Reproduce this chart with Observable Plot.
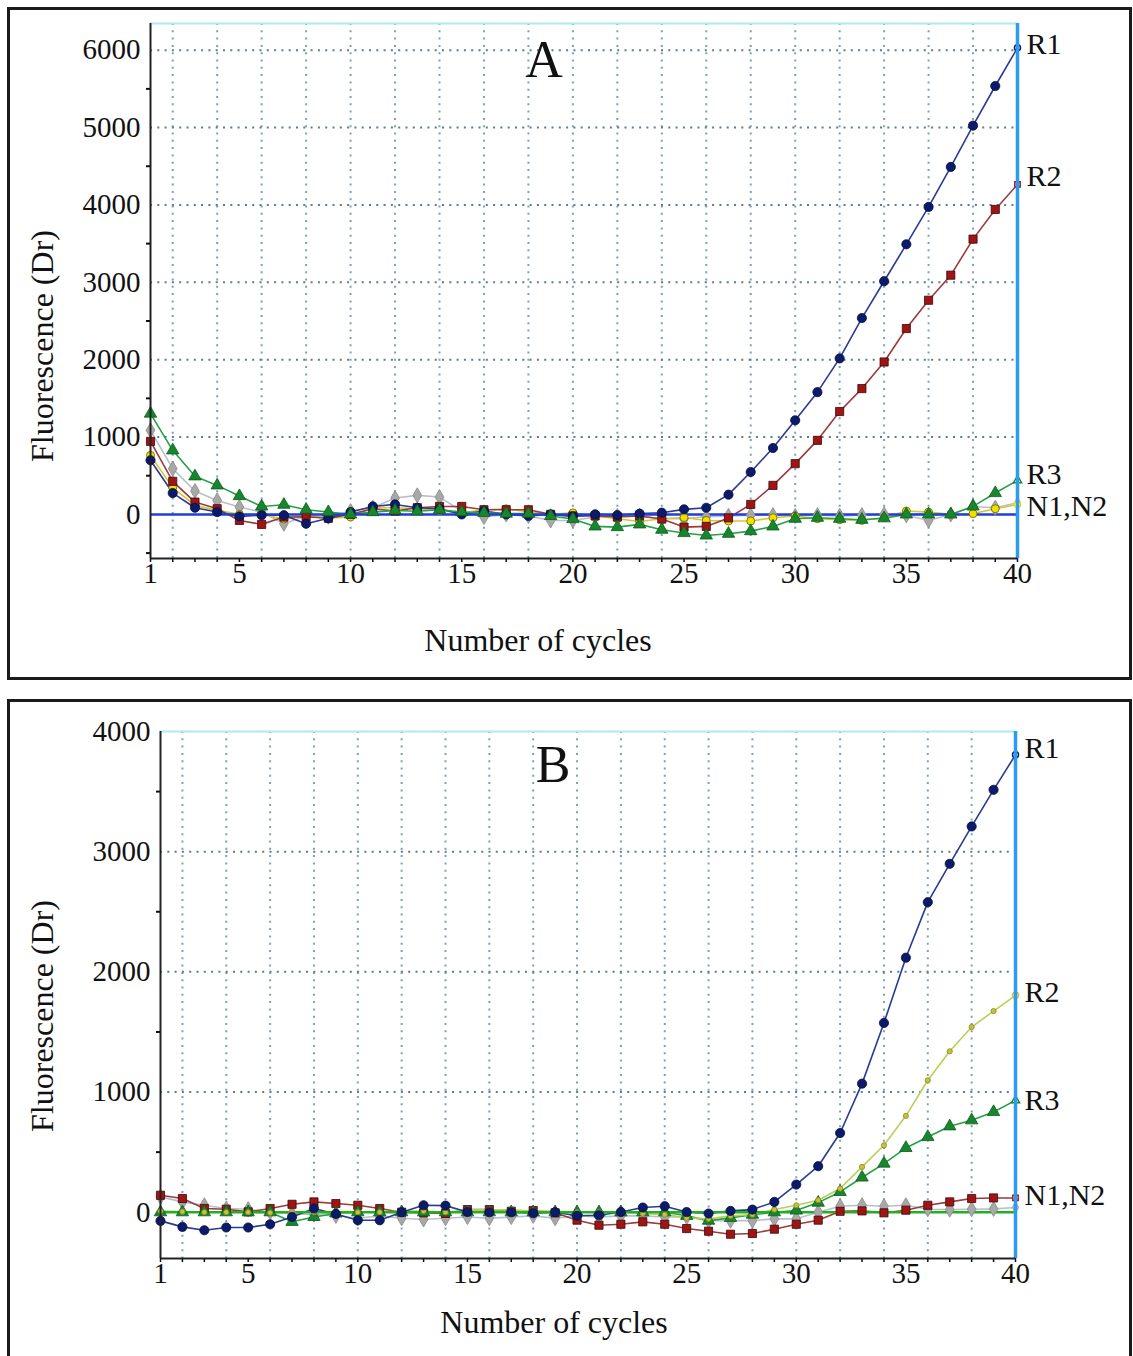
<!DOCTYPE html>
<html><head><meta charset="utf-8">
<script src="https://cdn.jsdelivr.net/npm/d3@7"></script>
<script src="https://cdn.jsdelivr.net/npm/@observablehq/plot@0.6"></script>
<style>
html,body{margin:0;padding:0;background:#fff;width:1133px;height:1356px;overflow:hidden;}
.box{position:absolute;border:3px solid #1b1b1b;box-sizing:border-box;}
.panel{position:absolute;left:0;}
svg{overflow:visible;}
</style></head><body>
<div class="box" style="left:7px;top:7px;width:1125px;height:673px"></div>
<div class="box" style="left:7px;top:699px;width:1125px;height:720px"></div>
<div id="pa" class="panel" style="top:0px"></div>
<div id="pb" class="panel" style="top:690px"></div>
<script>
// ---------- data ----------
const cycles = [1,2,3,4,5,6,7,8,9,10,11,12,13,14,15,16,17,18,19,20,21,22,23,24,25,26,27,28,29,30,31,32,33,34,35,36,37,38,39,40];
const xTickLabels = [1,5,10,15,20,25,30,35,40];
const gridCycles = [2,4,6,8,10,12,14,16,18,20,22,24,26,28,30,32,34,36,38];

// Panel A
const yTicksA = [0,1000,2000,3000,4000,5000,6000];
const yMinorA = [-500,500,1500,2500,3500,4500,5500];
const a_R1 = [699,276,86,30,-26,-10,-10,-120,-50,30,103,129,86,73,0,43,0,-20,0,-26,0,-10,10,22,65,86,255,548,858,1216,1580,2016,2538,3014,3491,3974,4491,5025,5537,6030];
const a_R2 = [944,427,159,73,-78,-129,-34,-30,-50,0,73,43,86,103,103,60,60,60,0,-20,-20,-34,-20,-60,-164,-155,-45,129,375,656,957,1330,1626,1970,2402,2768,3092,3558,3942,4265];
const a_R3 = [1303,828,492,375,237,103,125,61,30,0,30,50,40,60,30,20,10,10,-20,-60,-155,-164,-129,-198,-241,-272,-250,-216,-155,-56,-43,-56,-69,-50,0,0,0,103,276,440];
const a_N1 = [1087,591,302,181,95,30,-120,-20,-30,43,86,211,246,224,43,-34,0,-20,-78,-78,-34,-20,-20,-56,-56,-30,-20,-10,-10,-20,-10,-20,-10,0,-10,-78,0,103,86,150];
const a_N2 = [763,345,116,52,0,0,-60,-20,-50,-34,86,86,73,52,20,60,73,30,0,20,-20,-56,-91,-56,-40,-78,-86,-86,-43,-20,-56,-69,-78,-40,43,30,0,10,73,129];
const labelsA = ["R1","R2","R3","N1,N2"];

// Panel B
const yTicksB = [0,1000,2000,3000,4000];
const yMinorB = [500,1500,2500,3500];
const b_R1 = [-72,-122,-150,-127,-127,-100,-39,31,-14,-67,-67,0,58,55,2,0,0,-8,0,-29,-25,2,39,50,2,-11,11,22,86,230,383,659,1070,1575,2118,2580,2899,3210,3515,3806];
const b_R2 = [10,5,0,0,0,-5,0,0,-10,0,0,10,10,0,20,20,20,10,10,0,0,0,-10,-20,-47,-55,-30,-20,22,58,100,197,377,557,802,1098,1339,1541,1674,1805];
const b_R3 = [0,0,0,0,0,0,-80,-39,-10,0,0,0,0,0,0,0,0,0,0,0,0,0,0,0,-30,-70,-47,-20,0,14,80,169,289,405,535,626,715,765,834,931];
const b_N1 = [141,114,31,25,3,31,66,86,72,58,31,0,-5,-10,22,22,8,14,-5,-66,-108,-100,-80,-100,-136,-158,-183,-177,-141,-100,-66,8,11,-5,17,58,86,114,119,119];
const b_N2 = [128,86,58,31,25,0,-10,-20,-30,-50,-30,-50,-60,-50,-40,-50,-40,-30,-50,-30,-40,-30,-30,-40,-40,-70,-70,-70,-55,-55,0,50,58,50,58,25,22,25,28,39];
const labelsB = ["R1","R2","R3","N1,N2"];

// ---------- helpers ----------
const FONT = '"Liberation Serif", "Times New Roman", serif';
function seriesMarks(values, st) {
  const rows = cycles.map((c, i) => ({c, v: values[i]}));
  return [
    Plot.line(rows, {x: "c", y: "v", stroke: st.line, strokeWidth: 1.6}),
    Plot.dot(rows.slice(0, -1), {x: "c", y: "v", symbol: st.symbol, r: st.r, fill: st.fill, stroke: st.stroke, strokeWidth: 0.8}),
    Plot.dot(rows.slice(-1), {x: "c", y: "v", symbol: st.symbol, r: 3, fill: "white", stroke: st.fill, strokeWidth: 1.5})
  ];
}
const S = {
  blue:   {line: "#2b3a92", fill: "#0c1a6a", stroke: "#061040", symbol: "circle", r: 4.6},
  red:    {line: "#9b3b3b", fill: "#a01414", stroke: "#3a0a0a", symbol: "square", r: 4.6},
  green:  {line: "#27a045", fill: "#17862e", stroke: "#0d5a1c", symbol: "triangle", r: 4.6},
  gray:   {line: "#b8bfcc", fill: "#a8a8a8", stroke: "#888", symbol: "diamond", r: 4.6},
  yellow: {line: "#d4c830", fill: "#f0e000", stroke: "#6a6000", symbol: "circle", r: 4},
  ygreen: {line: "#b9cf57", fill: "#c8c23a", stroke: "#8a8a20", symbol: "circle", r: 2.6}
};

function panel(cfg) {
  const [y0, y1] = cfg.yDomain;
  const labelMarks = cfg.labels.map((t, i) =>
    Plot.text([{t, v: cfg.labelVals[i]}], {x: () => 40, y: "v", text: "t", dx: 9, dy: cfg.labelDy[i], textAnchor: "start", lineAnchor: "middle", fontSize: 30, fill: "#111"}));
  return Plot.plot({
    width: 1133, height: cfg.height,
    marginLeft: cfg.ml, marginRight: cfg.mr, marginTop: cfg.mt, marginBottom: cfg.mb,
    style: {fontFamily: FONT, fontSize: "29px", color: "#111", background: "transparent", overflow: "visible"},
    x: {domain: [1, 40]},
    y: {domain: [y0, y1]},
    marks: [
      Plot.ruleX(gridCycles, {stroke: "#7aa3b2", strokeWidth: 2, strokeDasharray: "2,5.3"}),
      Plot.ruleY(cfg.yTicks.filter(d => d > 0 && d < y1), {stroke: "#5d7e86", strokeWidth: 2, strokeDasharray: "2,5.3"}),
      Plot.ruleY([y1], {stroke: "#aeeaf2", strokeWidth: 2}),
      ...cfg.series.flatMap(([vals, st]) => seriesMarks(vals, st).slice(0, 1)),
      Plot.ruleY([0], {stroke: cfg.thresh, strokeWidth: 2.5}),
      ...cfg.series.flatMap(([vals, st]) => seriesMarks(vals, st).slice(1)),
      Plot.ruleX([40], {stroke: "#2b9cf0", strokeWidth: 3.5}),
      Plot.ruleX([1], {stroke: "#222", strokeWidth: 2}),
      Plot.ruleY([y0], {stroke: "#222", strokeWidth: 2}),
      Plot.axisY({ticks: cfg.yTicks, tickFormat: d => String(d), tickSize: 0, tickPadding: 10, label: null, fontSize: 29}),
      Plot.axisY({ticks: cfg.yMinor, tickSize: 4, text: null, label: null, strokeWidth: 2}),
      Plot.axisX({ticks: xTickLabels, tickFormat: d => String(d), tickSize: 0, tickPadding: 4, label: null, fontSize: 29}),
      Plot.axisX({ticks: cycles, tickSize: 4, text: null, label: null, strokeWidth: 1.5}),
      ...labelMarks,
      Plot.text([cfg.title], {frameAnchor: "top", dx: cfg.titleDx, dy: cfg.titleDy, lineAnchor: "middle", fontSize: 52, fill: "#111"}),
      Plot.text(["Number of cycles"], {frameAnchor: "bottom", textAnchor: "middle", dx: cfg.xlDx, dy: cfg.xlDy, lineAnchor: "middle", fontSize: 32, fill: "#111"}),
      Plot.text(["Fluorescence (Dr)"], {frameAnchor: "left", textAnchor: "middle", rotate: -90, dx: cfg.ylDx, dy: cfg.ylDy, lineAnchor: "middle", fontSize: 32, fill: "#111"})
    ]
  });
}

document.getElementById("pa").append(panel({
  height: 690, ml: 150, mr: 116, mt: 23, mb: 132,
  yDomain: [-570, 6345], yTicks: yTicksA, yMinor: yMinorA, thresh: "#1f3fd8",
  series: [[a_N1, S.gray], [a_N2, S.yellow], [a_R2, S.red], [a_R1, S.blue], [a_R3, S.green]],
  labels: labelsA, labelVals: [a_R1[39], a_R2[39], a_R3[39], a_N1[39]], labelDy: [-3, -8, -6, 4],
  title: "A", titleDx: -40, titleDy: 37,
  xlDx: -46, xlDy: 82, ylDx: -108, ylDy: 55
}));

document.getElementById("pb").append(panel({
  height: 666, ml: 160, mr: 118, mt: 41, mb: 98,
  yDomain: [-385, 4000], yTicks: yTicksB, yMinor: yMinorB, thresh: "#22b022",
  series: [[b_N2, S.gray], [b_N1, S.red], [b_R3, S.green], [b_R2, S.ygreen], [b_R1, S.blue]],
  labels: labelsB, labelVals: [b_R1[39], b_R2[39], b_R3[39], b_N1[39]], labelDy: [-6, -3, 0, -3],
  title: "B", titleDx: -35, titleDy: 34,
  xlDx: -34, xlDy: 64, ylDx: -118, ylDy: 21
}));
</script>
</body></html>
